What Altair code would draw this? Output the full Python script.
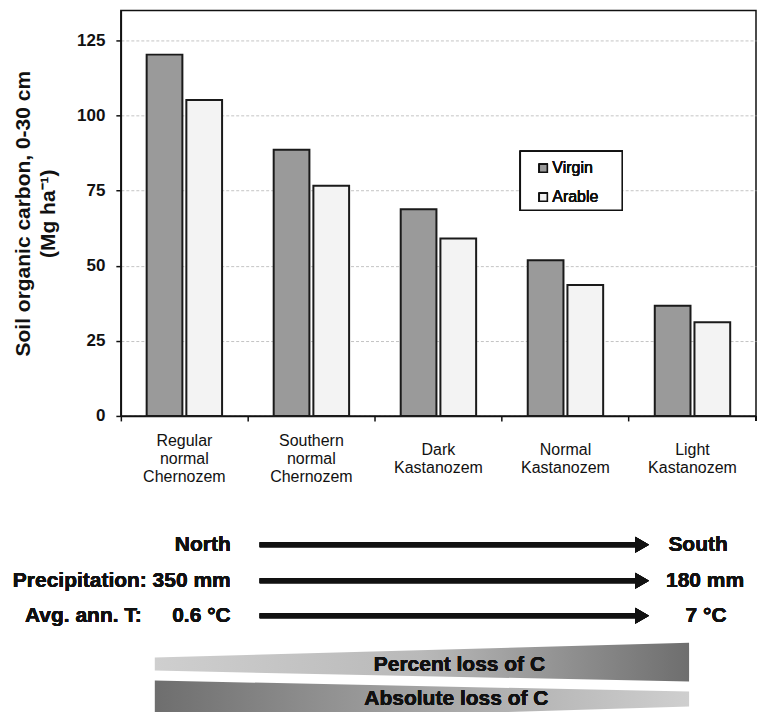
import altair as alt
import pandas as pd

# ---------------- data ----------------
soil_types = ["Regular normal Chernozem", "Southern normal Chernozem",
              "Dark Kastanozem", "Normal Kastanozem", "Light Kastanozem"]
soil_labels = ["Regular\nnormal\nChernozem", "Southern\nnormal\nChernozem",
               "Dark\nKastanozem", "Normal\nKastanozem", "Light\nKastanozem"]
series = ["Virgin", "Arable"]
series_colors = ["#9a9a9a", "#f3f3f3"]
virgin = [120.3, 88.6, 68.8, 51.8, 36.7]
arable = [105.2, 76.6, 59.1, 43.6, 31.2]
y_ticks = [0, 25, 50, 75, 100, 125]

row_names = ["", "Precipitation:", "Avg. ann. T:"]
north_values = ["North", "350 mm", "0.6 °C"]
south_values = ["South", "180 mm", "7 °C"]
band_labels = ["Percent loss of C", "Absolute loss of C"]

# ---------------- styling ----------------
W, H = 636, 406
BOLD = "Liberation Sans, Arial, Helvetica, sans-serif"
INK = "#111111"

bars_df = pd.DataFrame({
    "cat": soil_types * 2,
    "series": [series[0]] * 5 + [series[1]] * 5,
    "value": virgin + arable,
})
labels_df = pd.DataFrame({"cat": soil_types, "label": soil_labels})

x_enc = alt.X("cat:N", sort=soil_types,
              scale=alt.Scale(paddingInner=0, paddingOuter=0),
              axis=alt.Axis(labels=False, title=None, bandPosition=0, tickSize=5,
                            tickColor=INK, tickWidth=1.5, domainColor=INK,
                            domainWidth=1.5, grid=False))

bars = alt.Chart(bars_df).mark_bar(stroke="#1a1a1a", strokeWidth=2).encode(
    x=x_enc,
    xOffset=alt.XOffset("series:N", sort=series,
                        scale=alt.Scale(paddingInner=0.1, paddingOuter=0.65)),
    y=alt.Y("value:Q", scale=alt.Scale(domain=[0, 135], nice=False),
            axis=alt.Axis(values=y_ticks, grid=True, gridColor="#c4c4c4",
                          gridDash=[3, 2], gridWidth=1, tickSize=5, tickColor=INK,
                          tickWidth=1.5, domainColor=INK, domainWidth=1.5,
                          labelFont=BOLD, labelFontSize=17, labelFontWeight="bold",
                          labelColor=INK, labelPadding=11,
                          title=["Soil organic carbon, 0-30 cm", "(Mg ha⁻¹)"],
                          titleFont=BOLD, titleFontSize=21, titleFontWeight="bold",
                          titleColor=INK, titlePadding=18, titleLineHeight=25)),
    color=alt.Color("series:N", scale=alt.Scale(domain=series, range=series_colors),
                    legend=None),
)

# category labels: blocks of 3 and 2 lines, vertically centred on the same line
cat_base = alt.Chart(labels_df).transform_calculate(
    nlines="length(split(datum.label, '\\n'))")
cat_text3 = cat_base.transform_filter("datum.nlines == 3").mark_text(
    font=BOLD, fontSize=16, lineBreak="\n", lineHeight=18,
    baseline="middle", align="center", color=INK
).encode(x=x_enc, y=alt.value(431), text="label:N")
cat_text2 = cat_base.transform_filter("datum.nlines == 2").mark_text(
    font=BOLD, fontSize=16, lineBreak="\n", lineHeight=18,
    baseline="middle", align="center", color=INK
).encode(x=x_enc, y=alt.value(440), text="label:N")

end_tick = alt.Chart(labels_df).mark_rule(color=INK, strokeWidth=1.5).encode(
    x=alt.value(W), y=alt.value(H), y2=alt.value(H + 5))

# manual legend
legend_layers = [
    alt.Chart(labels_df).mark_rect(fill="white", stroke=INK, strokeWidth=1.5).encode(
        x=alt.value(400), x2=alt.value(502), y=alt.value(141), y2=alt.value(200))
]
for i, (name, col) in enumerate(zip(series, series_colors)):
    legend_layers.append(
        alt.Chart(labels_df).mark_square(size=64, fill=col, stroke=INK,
                                         strokeWidth=1.5, opacity=1).encode(
            x=alt.value(423), y=alt.value(158 + 29 * i)))
    legend_layers.append(
        alt.Chart(labels_df).mark_text(text=name, font=BOLD, fontSize=16,
                                       fontWeight="normal", align="left",
                                       baseline="middle", color=INK).encode(
            x=alt.value(432), y=alt.value(158 + 29 * i)))

# gradient rows with arrows
row_y = [535, 571, 606]
name_right = [0, 26, 21]
north_right = [110, 110, 110]
south_center = [578, 585, 586]
row_layers = []
for i in range(3):
    yv = row_y[i]
    if row_names[i]:
        row_layers.append(alt.Chart(labels_df).mark_text(
            text=row_names[i], font=BOLD, fontSize=21, fontWeight="bold",
            align="right", baseline="middle", color=INK).encode(
            x=alt.value(name_right[i]), y=alt.value(yv)))
    row_layers.append(alt.Chart(labels_df).mark_text(
        text=north_values[i], font=BOLD, fontSize=21, fontWeight="bold",
        align="right", baseline="middle", color=INK).encode(
        x=alt.value(north_right[i]), y=alt.value(yv)))
    row_layers.append(alt.Chart(labels_df).mark_text(
        text=south_values[i], font=BOLD, fontSize=21, fontWeight="bold",
        align="center", baseline="middle", color=INK).encode(
        x=alt.value(south_center[i]), y=alt.value(yv)))
    row_layers.append(alt.Chart(labels_df).mark_rule(color=INK, strokeWidth=5).encode(
        x=alt.value(139), x2=alt.value(520), y=alt.value(yv)))
    row_layers.append(alt.Chart(labels_df).mark_point(
        shape="triangle-right", filled=True, size=256, color=INK, opacity=1).encode(
        x=alt.value(522), y=alt.value(yv)))

main = alt.layer(bars, cat_text3, cat_text2, end_tick, *legend_layers, *row_layers)

# gradient wedges (annotation geometry, pixel space)
band1_df = pd.DataFrame({"f": [0, 1], "top": [648, 633], "bot": [661, 672]})
band2_df = pd.DataFrame({"f": [0, 1], "top": [671, 682], "bot": [713, 697]})
bx = alt.X("f:Q", scale=alt.Scale(domain=[0, 1], range=[34, 569]), axis=None)
pix = alt.Scale(domain=[0, 800], range=[0, 800])

band1 = alt.Chart(band1_df).mark_area(
    color=alt.Gradient(gradient="linear", x1=0, x2=1, y1=0, y2=0, stops=[
        alt.GradientStop(color="#cfcfcf", offset=0),
        alt.GradientStop(color="#b9b9b9", offset=0.5),
        alt.GradientStop(color="#6e6e6e", offset=1)])
).encode(x=bx, y=alt.Y("top:Q", scale=pix, axis=None), y2="bot:Q")

band2 = alt.Chart(band2_df).mark_area(
    color=alt.Gradient(gradient="linear", x1=0, x2=1, y1=0, y2=0, stops=[
        alt.GradientStop(color="#6e6e6e", offset=0),
        alt.GradientStop(color="#a4a4a4", offset=0.5),
        alt.GradientStop(color="#cfcfcf", offset=1)])
).encode(x=bx, y=alt.Y("top:Q", scale=pix, axis=None), y2="bot:Q")

band_text = alt.layer(*[
    alt.Chart(labels_df).mark_text(text=band_labels[i], font=BOLD, fontSize=21,
                                   fontWeight="bold", align="center",
                                   baseline="middle", color=INK).encode(
        x=alt.value([339, 336][i]), y=alt.value([655, 689][i]))
    for i in range(2)
])

chart = alt.layer(main, band1, band2, band_text).resolve_scale(
    x="independent", y="independent"
).properties(
    width=W, height=H,
    padding={"left": 4, "top": 2, "right": 0, "bottom": 0},
    background="white",
).configure_view(stroke=INK, strokeWidth=1.5)

chart.save("out.html", embed_options={"renderer": "svg", "actions": False})
